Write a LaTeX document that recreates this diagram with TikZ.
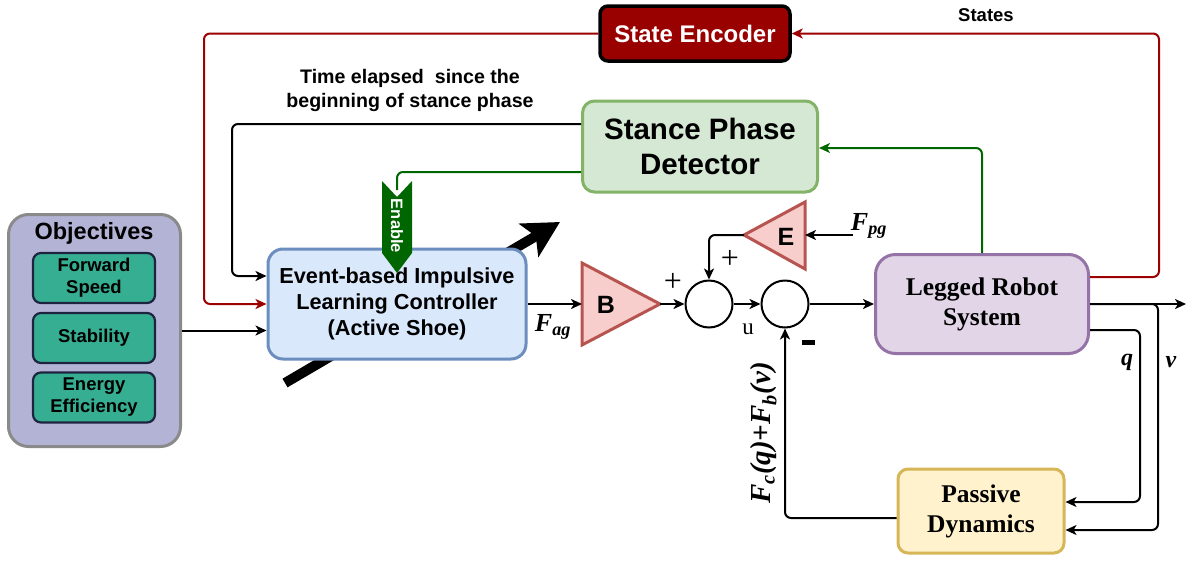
\documentclass[tikz,border=0pt]{standalone}
\usepackage{fontspec}
\setmainfont{Liberation Sans}
\newfontfamily\tms{Liberation Serif}
\usetikzlibrary{arrows.meta}

\definecolor{objfill}{HTML}{B3B3D6}
\definecolor{objline}{HTML}{8A8A8A}
\definecolor{teal}{HTML}{36AE92}
\definecolor{tealline}{HTML}{1E2440}
\definecolor{ctrlfill}{HTML}{DAE8FC}
\definecolor{ctrlline}{HTML}{6C8EBF}
\definecolor{spdfill}{HTML}{D5E8D4}
\definecolor{spdline}{HTML}{82B366}
\definecolor{encfill}{HTML}{990000}
\definecolor{robfill}{HTML}{E1D5E7}
\definecolor{robline}{HTML}{9673A6}
\definecolor{pasfill}{HTML}{FFF2CC}
\definecolor{pasline}{HTML}{D6B656}
\definecolor{trifill}{HTML}{F8CECC}
\definecolor{triline}{HTML}{B85450}
\definecolor{darkred}{HTML}{9C0000}
\definecolor{darkgreen}{HTML}{006600}

\begin{document}
\begin{tikzpicture}[x=1pt,y=-1pt,
  box/.style={draw, line width=3pt, align=center, inner sep=0pt},
  goal/.style={box, fill=teal, draw=tealline, line width=2.2pt, rounded corners=8pt,
    minimum width=122pt, minimum height=50pt, font=\bfseries\fontsize{18.5}{23}\selectfont},
  conn/.style={line width=2pt, rounded corners=6pt, -{Stealth[length=11pt,width=10pt,inset=3pt]}},
  redconn/.style={conn, draw=darkred, -{Stealth[length=11pt,width=10pt,inset=3pt]}},
  greenconn/.style={conn, draw=darkgreen},
  plainline/.style={line width=2pt, rounded corners=6pt},
  tri/.style={fill=trifill, draw=triline, line width=3pt, line join=miter},
  sumnode/.style={circle, draw, line width=2pt, minimum size=47pt, inner sep=0pt},
  sym/.style={font=\tms\bfseries\itshape\fontsize{26}{26}\selectfont, inner sep=0pt},
]
\useasboundingbox (0,0) rectangle (1189,560);

% adaptation arrow, passing behind the controller
\draw[line width=10pt, -{Stealth[length=36pt,width=38pt,inset=8pt]}] (285,383) -- (560,222);

% objectives
\node[box, fill=objfill, draw=objline, rounded corners=20pt, minimum width=172pt, minimum height=232pt] (obj) at (94.5,330.5) {};
\node[font=\bfseries\fontsize{23.5}{26}\selectfont, inner sep=0pt] (objt) at (94,233) {Objectives};
\node[goal] (fs) at (94,278) {Forward\\[-1pt]Speed};
\node[goal] (st) at (94,338) {Stability};
\node[goal] (ee) at (94,397.5) {Energy\\[-1pt]Efficiency};

% main blocks
\node[box, fill=ctrlfill, draw=ctrlline, rounded corners=15pt, minimum width=258pt, minimum height=110pt,
  font=\bfseries\fontsize{21.7}{26}\selectfont] (ctrl) at (397,304)
  {Event-based Impulsive\\Learning Controller\\(Active Shoe)};
\node[box, fill=spdfill, draw=spdline, rounded corners=12pt, minimum width=235pt, minimum height=91pt,
  font=\bfseries\fontsize{29.5}{35}\selectfont] (spd) at (700,146.5) {Stance Phase\\Detector};
\node[box, fill=encfill, draw=black, line width=3.5pt, rounded corners=8pt, minimum width=190pt, minimum height=55pt,
  text=white, font=\bfseries\fontsize{24}{25}\selectfont] (enc) at (695,33.5) {State Encoder};
\node[box, fill=robfill, draw=robline, rounded corners=20pt, minimum width=213pt, minimum height=99pt,
  font=\tms\bfseries\fontsize{25.5}{30}\selectfont] (robot) at (982,304) {Legged Robot\\System};
\node[box, fill=pasfill, draw=pasline, rounded corners=10pt, minimum width=166pt, minimum height=84pt,
  font=\tms\bfseries\fontsize{25.5}{30}\selectfont] (pas) at (981,511) {Passive\\Dynamics};

% gains
\draw[tri] (582,263) -- (660,304) -- (582,345) -- cycle;
\coordinate (Bin) at (582,304);
\coordinate (Bout) at (660,304);
\node[font=\bfseries\fontsize{25}{25}\selectfont, inner sep=0pt] (B) at (606,305) {B};
\draw[tri] (805,202) -- (744,235) -- (805,269) -- cycle;
\coordinate (Ein) at (805,235);
\coordinate (Eout) at (744,235);
\node[font=\bfseries\fontsize{25}{25}\selectfont, inner sep=0pt] (E) at (786,237) {E};

% summing junctions
\node[sumnode] (s1) at (709,304) {};
\node[sumnode] (s2) at (785,304) {};

% free ends
\coordinate (fpg) at (853,235);
\coordinate (out) at (1186,304);
\coordinate (en) at (397,190);

% connectors
\draw[conn] (obj.east) -- (ctrl.west |- obj.east);
\draw[redconn] (enc.west) -- (204,33.5) -- (204,304) -- (ctrl.west);
\draw[conn] (spd.west |- 0,124) -- (232,124) -- (232,276) -- (ctrl.west |- 0,276);
\draw[plainline, darkgreen] (spd.west |- 0,172) -- (397,172) -- (en);
\draw[redconn] (robot.east |- 0,277) -- (1159,277) -- (1159,33.5) -- (enc.east);
\draw[greenconn] (robot.north) -- (982,148) -- (spd.east |- 0,148);
\draw[conn] (ctrl.east) -- (Bin);
\draw[conn] (Bout) -- (s1.west);
\draw[conn] (s1.east) -- (s2.west);
\draw[conn] (s2.east) -- (robot.west);
\draw[conn] (fpg) -- (Ein);
\draw[conn] (Eout) -- (709,235) -- (s1.north);
\draw[conn, rounded corners=0pt] (robot.east) -- (out);
\draw[conn] (robot.east |- 0,330) -- (1140,330) -- (1140,502) -- (pas.east |- 0,502);
\draw[conn] (robot.east) -- (1158,304) -- (1158,530) -- (pas.east |- 0,530);
\draw[conn] (pas.west |- 0,518) -- (s2.south |- 0,518) -- (s2.south);

% enable flag
\fill[darkgreen] (382,181) -- (397,197) -- (412,181) -- (412,253) -- (397,273) -- (382,253) -- cycle;
\node[rotate=-90, text=white, font=\bfseries\fontsize{16.5}{16}\selectfont, inner sep=0pt] (ent) at (397,226) {Enable};

% labels
\node[align=center, font=\bfseries\fontsize{19.6}{24}\selectfont, inner sep=0pt] (tlab) at (410,90)
  {Time elapsed \ since the\\beginning of stance phase};
\node[font=\bfseries\fontsize{18.5}{18}\selectfont, inner sep=0pt] (slab) at (986,15) {States};
\node[sym] (fag) at (553,327) {F\textsubscript{ag}};
\node[sym] (fpgl) at (869,226) {F\textsubscript{pg}};
\node[font=\tms\fontsize{23}{23}\selectfont, inner sep=0pt] (ulab) at (748,329) {u};
\node[font=\tms\fontsize{32}{32}\selectfont, inner sep=0pt] (p1) at (673,282) {+};
\node[font=\tms\fontsize{32}{32}\selectfont, inner sep=0pt] (p2) at (730,259) {+};
\fill (802,340) rectangle (815,344.5);
\node[sym, font=\tms\bfseries\itshape\fontsize{24}{24}\selectfont] (ql) at (1127,362) {q};
\node[sym, font=\tms\bfseries\itshape\fontsize{24}{24}\selectfont] (vl) at (1171,362) {v};
\node[sym, font=\tms\bfseries\itshape\fontsize{29}{29}\selectfont, rotate=90] (fcl) at (764,433) {F\textsubscript{c}(q)+F\textsubscript{b}(v)};
\end{tikzpicture}
\end{document}
